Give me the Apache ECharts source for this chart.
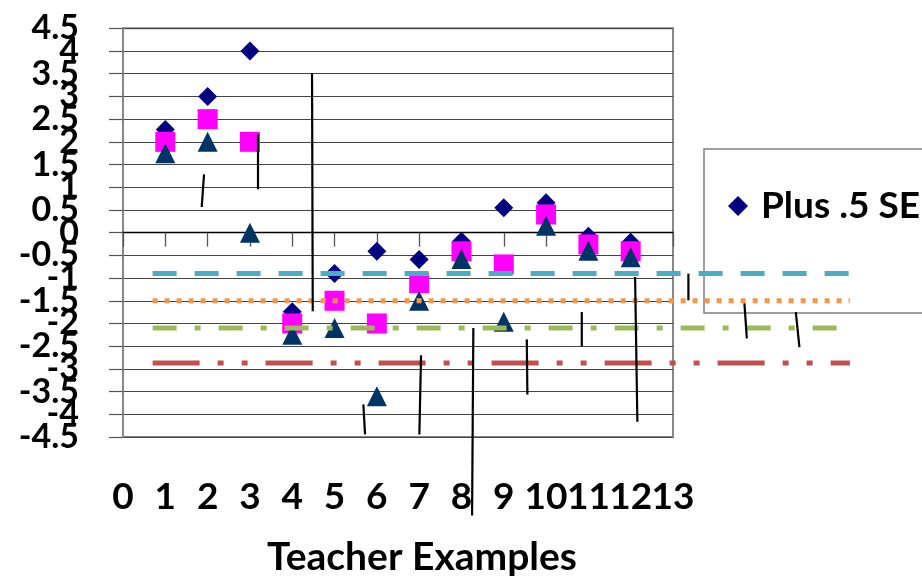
<!DOCTYPE html>
<html><head><meta charset="utf-8">
<script src="https://cdn.jsdelivr.net/npm/echarts@6/dist/echarts.min.js"></script>
<style>html,body{margin:0;padding:0;background:#fff}#c{width:922px;height:578px}</style>
</head><body><div id="c"></div>
<script>
// ---- data ----
const examples = [1, 2, 3, 4, 5, 6, 7, 8, 9, 10, 11, 12];
const plusHalfSE = [2.27, 3.0, 4.0, -1.74, -0.9, -0.41, -0.59, -0.19, 0.55, 0.66, -0.08, -0.21];
const scores = [2.0, 2.5, 2.0, -2.0, -1.5, -2.0, -1.11, -0.41, -0.70, 0.40, -0.26, -0.41];
const minusHalfSE = [1.75, 2.0, 0.0, -2.25, -2.1, -3.6, -1.5, -0.58, -1.96, 0.15, -0.40, -0.54];
const refNames = ['Ref A', 'Ref B', 'Ref C', 'Ref D'];
const refLevels = [-0.9, -1.5, -2.1, -2.87];
const refSpan = [0.7, 17.18];
// stray bars: [xTop, yTop, xBottom, yBottom] in secondary-axis units
const strayBars = [
  [1.915, 1.284, 1.861, 0.564],
  [3.191, 2.165, 3.191, 0.954],
  [4.468, 3.509, 4.485, -1.733],
  [5.681, -3.782, 5.721, -4.443],
  [7.045, -2.703, 7.005, -4.443],
  [8.281, -2.101, 8.251, -6.227],
  [9.544, -2.350, 9.558, -3.562],
  [10.844, -1.749, 10.844, -2.504],
  [12.104, -0.978, 12.158, -4.163],
  [13.364, -0.903, 13.364, -1.491],
  [14.688, -1.557, 14.745, -2.328],
  [15.903, -1.749, 15.988, -2.520]
];

// ---- chart ----
const FONT = 'Lato';
const refStyles = [
  { color: '#4BACC6', type: [24, 18] },
  { color: '#F79646', type: [5, 7] },
  { color: '#9BBB59', type: [24, 18, 6, 18] },
  { color: '#C0504D', type: [47, 18, 6, 18, 6, 18] }
];
const G_LEFT = 123, G_TOP = 28.3, G_W = 550, G_H = 408.7;
const pxPerX = G_W / 13, pxPerY = G_H / 9;
const X2MAX = 17.5, Y2MIN = -7, Y2MAX = 4.5;
const isInt = v => Math.abs(v - Math.round(v)) < 1e-6;
const isEven = v => isInt(v) && Math.round(v) % 2 === 0;

const chart = echarts.init(document.getElementById('c'), null, { renderer: 'canvas' });
const series = [
  { name: 'Plus .5 SE', type: 'scatter', xAxisIndex: 0, yAxisIndex: 0, symbol: 'diamond', symbolSize: 19,
    itemStyle: { color: '#000080', opacity: 1 }, z: 2, data: examples.map((x, i) => [x, plusHalfSE[i]]) },
  { name: 'Score', type: 'scatter', xAxisIndex: 0, yAxisIndex: 0, symbol: 'rect', symbolSize: 20,
    itemStyle: { color: '#FF00FF', opacity: 1 }, z: 3, data: examples.map((x, i) => [x, scores[i]]) },
  { name: 'Minus .5 SE', type: 'scatter', xAxisIndex: 0, yAxisIndex: 0, symbol: 'triangle', symbolSize: 20,
    itemStyle: { color: '#003366', opacity: 1 }, z: 4, data: examples.map((x, i) => [x, minusHalfSE[i]]) }
];
refLevels.forEach((lv, i) => {
  series.push({
    name: refNames[i], type: 'line', xAxisIndex: 1, yAxisIndex: 1, showSymbol: false, symbol: 'none',
    silent: true, z: 5, clip: false,
    lineStyle: { color: refStyles[i].color, type: refStyles[i].type, width: 5, cap: 'butt' },
    data: refSpan.map(x => [x, lv])
  });
});
series.push({
  name: 'bars', type: 'custom', xAxisIndex: 1, yAxisIndex: 1, z: 6, silent: true,
  data: strayBars,
  renderItem: function (params, api) {
    const p1 = api.coord([api.value(0), api.value(1)]);
    const p2 = api.coord([api.value(2), api.value(3)]);
    return { type: 'line', shape: { x1: p1[0], y1: p1[1], x2: p2[0], y2: p2[1] },
      style: { stroke: '#000', lineWidth: 2.2 } };
  }
});

const xLabelStyle = { margin: 42, showMinLabel: true, showMaxLabel: true,
  fontFamily: FONT, fontWeight: 'bold', fontSize: 37, color: '#000' };
const yLabelStyle = { margin: 44, showMinLabel: true, showMaxLabel: true,
  fontFamily: FONT, fontWeight: 'bold', fontSize: 34, color: '#000', padding: [0, 0, 9, 0] };

chart.setOption({
  animation: false,
  backgroundColor: '#fff',
  textStyle: { fontFamily: FONT },
  title: {
    text: 'Teacher Examples', left: 262, top: 533,
    textStyle: { fontFamily: FONT, fontWeight: 'bold', fontSize: 39, color: '#000' }
  },
  legend: {
    data: ['Plus .5 SE'], left: 704, top: 149,
    padding: [37, 200, 87, 24],
    borderColor: '#808080', borderWidth: 1.5,
    itemWidth: 20, itemHeight: 20, icon: 'diamond',
    itemStyle: { opacity: 1 },
    textStyle: { fontFamily: FONT, fontWeight: 'bold', fontSize: 37, color: '#000', lineHeight: 40, padding: [0, 0, 0, 8] }
  },
  grid: [
    { left: G_LEFT, top: G_TOP, width: G_W, height: G_H, show: true, borderColor: '#888', borderWidth: 2,
      backgroundColor: 'transparent', containLabel: false, outerBoundsMode: 'none' },
    { left: G_LEFT, top: G_TOP, width: pxPerX * X2MAX, height: pxPerY * (Y2MAX - Y2MIN), show: false,
      containLabel: false, outerBoundsMode: 'none' }
  ],
  xAxis: [
    { type: 'value', gridIndex: 0, min: 0, max: 13, interval: 1,
      axisLine: { show: true, onZero: true, lineStyle: { color: '#000', width: 1.3 } },
      axisTick: { show: true, inside: false, length: 14, lineStyle: { color: '#555', width: 1.3 } },
      splitLine: { show: false },
      axisLabel: Object.assign({}, xLabelStyle, { formatter: v => isEven(v) ? String(v) : '' }) },
    { type: 'value', gridIndex: 1, min: 0, max: X2MAX, show: false },
    { type: 'value', gridIndex: 0, min: 0, max: 13, interval: 1, position: 'bottom',
      axisLine: { show: false, onZero: true }, axisTick: { show: false }, splitLine: { show: false },
      axisLabel: Object.assign({}, xLabelStyle, { formatter: v => (isInt(v) && !isEven(v)) ? String(v) : '' }) }
  ],
  yAxis: [
    { type: 'value', gridIndex: 0, min: -4.5, max: 4.5, interval: 0.5,
      axisLine: { show: true, onZero: false, lineStyle: { color: '#888', width: 2 } },
      axisTick: { show: true, inside: false, length: 14, lineStyle: { color: '#555', width: 1.2 } },
      splitLine: { show: true, lineStyle: { color: '#444', width: 1.2 } },
      axisLabel: Object.assign({}, yLabelStyle, { formatter: v => isInt(v) ? '' : String(v) }) },
    { type: 'value', gridIndex: 1, min: Y2MIN, max: Y2MAX, show: false },
    { type: 'value', gridIndex: 0, min: -4.5, max: 4.5, interval: 0.5, position: 'left', offset: 0,
      axisLine: { show: false, onZero: false }, axisTick: { show: false }, splitLine: { show: false },
      axisLabel: Object.assign({}, yLabelStyle, { formatter: v => isInt(v) ? String(v) : '' }) }
  ],
  series: series
});
</script>
</body></html>
